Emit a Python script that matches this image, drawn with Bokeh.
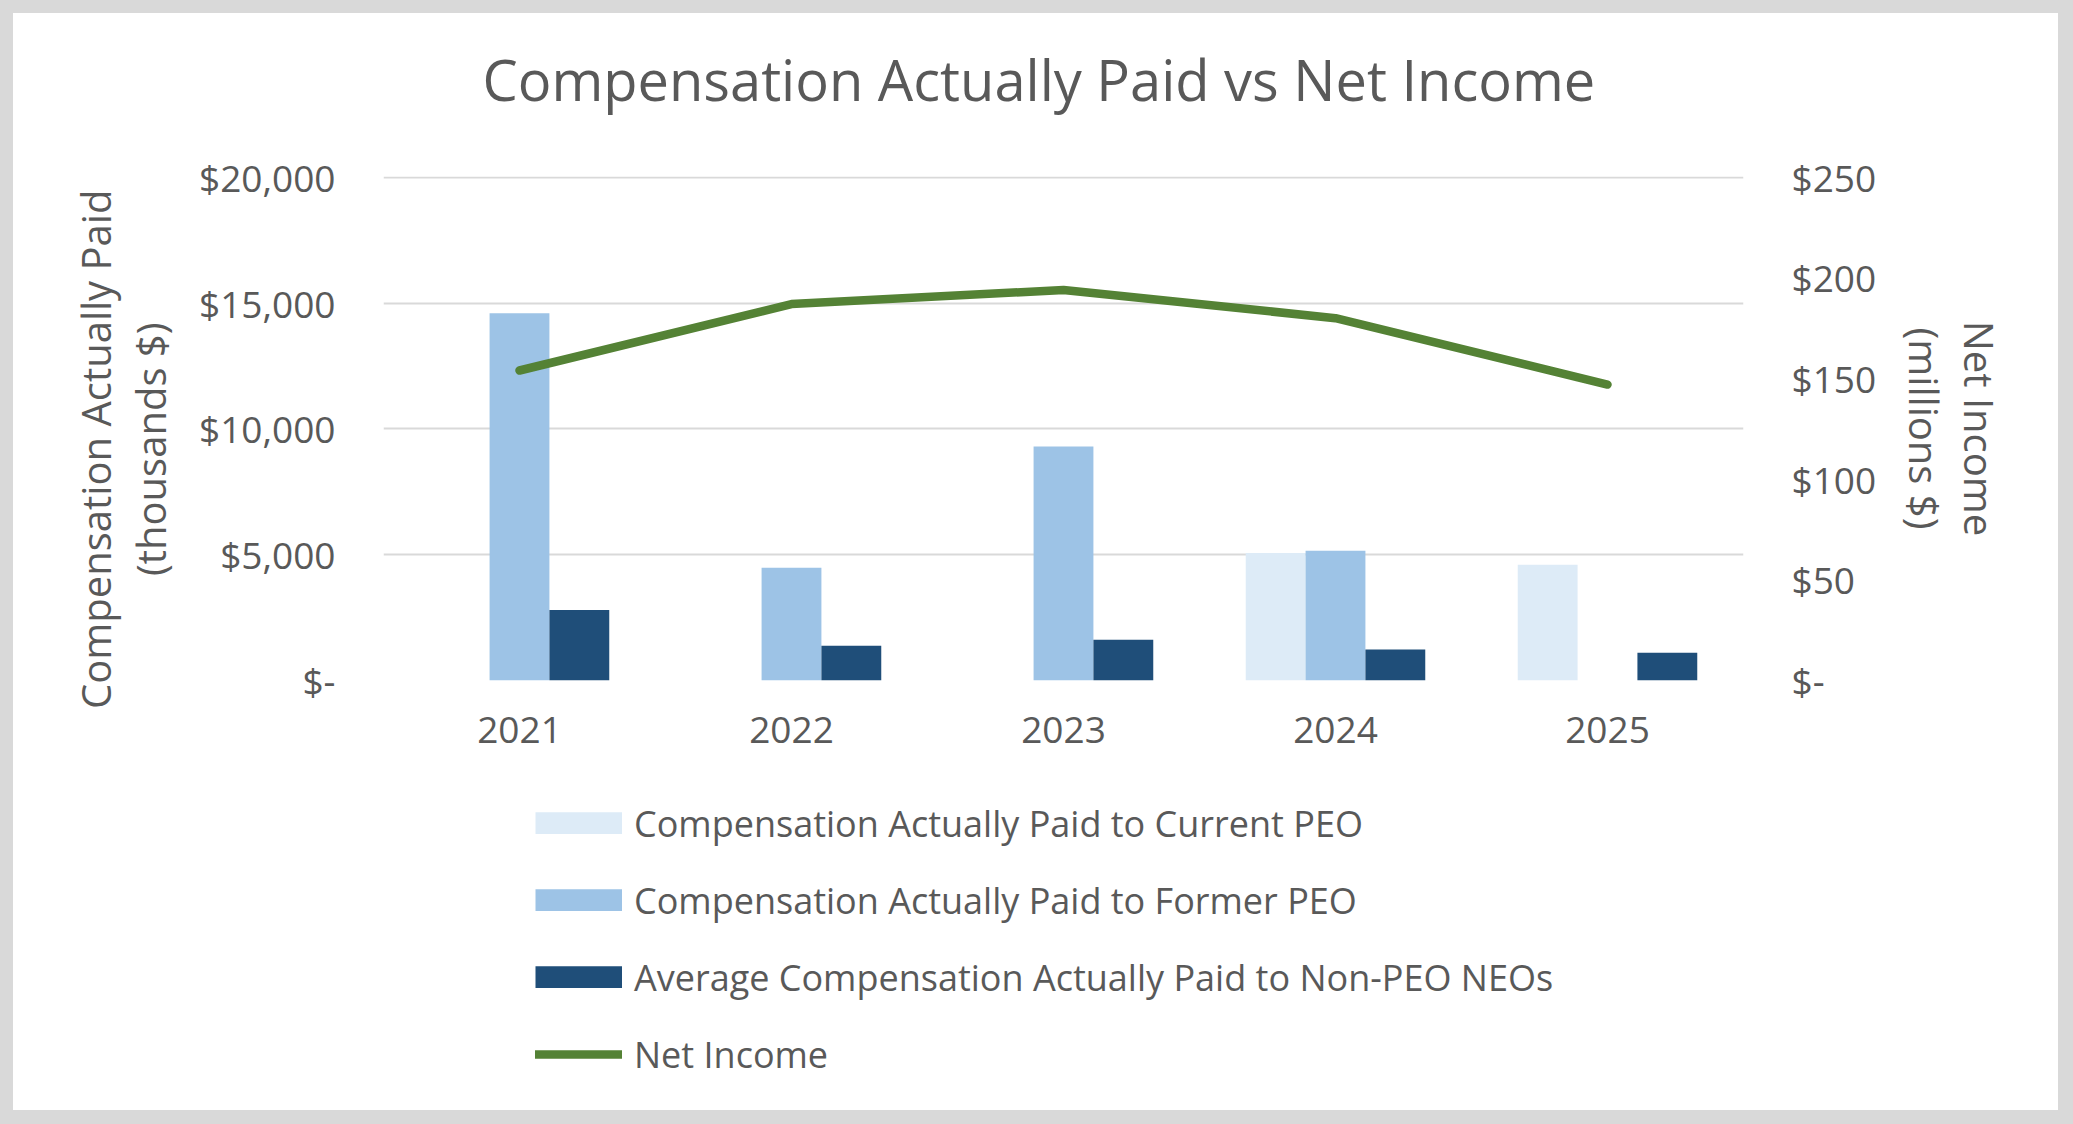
import numpy as np
from bokeh.plotting import figure
from bokeh.layouts import column
from bokeh.models import (FactorRange, Range1d, LinearAxis, FixedTicker, Legend,
                          LegendItem, ColumnDataSource, Title)
from bokeh.transform import dodge
from bokeh.embed import file_html
from bokeh.resources import INLINE

# ---------------- data ----------------
years = ["2021", "2022", "2023", "2024", "2025"]
current_peo = [None, None, None, 5070, 4600]        # thousands $
former_peo = [14600, 4480, 9300, 5160, None]        # thousands $
non_peo_neo = [2800, 1380, 1620, 1230, 1100]        # thousands $
net_income = [154, 187, 194, 180, 147]              # millions $

left_ticks = [0, 5000, 10000, 15000, 20000]
left_tick_labels = ["$-", "$5,000", "$10,000", "$15,000", "$20,000"]
right_ticks = [0, 50, 100, 150, 200, 250]
right_tick_labels = ["$-", "$50", "$100", "$150", "$200", "$250"]

series_names = ["Compensation Actually Paid to Current PEO",
                "Compensation Actually Paid to Former PEO",
                "Average Compensation Actually Paid to Non-PEO NEOs",
                "Net Income"]

# ---------------- style ----------------
FONT = "Open Sans"
TXT = "#595959"
C_CUR = "#DDEBF7"
C_FOR = "#9DC3E6"
C_NEO = "#1F4E79"
C_NI = "#548235"
GRID = "#D9D9D9"
FRAME = "#D9D9D9"

W = 2073
H1 = 790           # chart part
H2 = 1124 - H1     # legend part

def f(vals):
    return np.array([np.nan if v is None else v for v in vals], dtype=float)

src = ColumnDataSource(dict(year=years, cur=f(current_peo), fmr=f(former_peo),
                            neo=f(non_peo_neo), ni=f(net_income)))

p = figure(width=W, height=H1, x_range=FactorRange(factors=years, range_padding=0),
           y_range=Range1d(0, 20030), output_backend="svg", toolbar_location=None,
           min_border_left=370, min_border_right=343, min_border_top=163,
           min_border_bottom=123)
p.extra_y_ranges = {"ni": Range1d(0, 250.375)}
p.styles = {"border-style": "solid", "border-color": FRAME,
            "border-width": "13px 15px 0px 13px"}

p.outline_line_color = None
p.background_fill_color = "white"
p.border_fill_color = "white"

# title (with a spacer between it and the plot area)
p.title.text = "Compensation Actually Paid vs Net Income"
p.title.align = "left"
p.title.offset = 99
p.title.standoff = 0
p.title.vertical_align = "bottom"
p.title.text_font = FONT
p.title.text_font_size = "56px"
p.title.text_font_style = "normal"
p.title.text_color = TXT
p.add_layout(Title(text=" ", text_font_size="1px", standoff=57), "above")

bw = 0.22
p.vbar(x=dodge("year", -bw, range=p.x_range), top="cur", bottom=0, width=bw,
       source=src, fill_color=C_CUR, line_color=None)
p.vbar(x=dodge("year", 0, range=p.x_range), top="fmr", bottom=0, width=bw,
       source=src, fill_color=C_FOR, line_color=None)
p.vbar(x=dodge("year", bw, range=p.x_range), top="neo", bottom=0, width=bw,
       source=src, fill_color=C_NEO, line_color=None)
p.line(x="year", y="ni", source=src, y_range_name="ni", line_color=C_NI,
       line_width=8.5, line_cap="round", line_join="round")

# grid
p.xgrid.grid_line_color = None
p.ygrid.ticker = FixedTicker(ticks=left_ticks)
p.ygrid.grid_line_color = GRID
p.ygrid.grid_line_width = 2

def style_axis(ax):
    ax.axis_line_color = None
    ax.major_tick_line_color = None
    ax.minor_tick_line_color = None
    ax.major_tick_in = 0
    ax.major_tick_out = 0
    ax.major_label_text_font = FONT
    ax.major_label_text_font_size = "37px"
    ax.major_label_text_color = TXT
    ax.axis_label_text_font = FONT
    ax.axis_label_text_font_size = "40px"
    ax.axis_label_text_font_style = "normal"
    ax.axis_label_text_color = TXT
    ax.axis_label_text_line_height = 1.0

NB = "\u00a0" * 4   # nudges the left title toward the bottom, like the reference

# left axis
la = p.left[0]
style_axis(la)
la.ticker = FixedTicker(ticks=left_ticks)
la.major_label_overrides = {t: s for t, s in zip(left_ticks, left_tick_labels)}
la.major_label_standoff = 48
la.axis_label = "Compensation Actually Paid" + NB + "\n(thousands $)" + NB
la.axis_label_standoff = 18

# right axis
ra = LinearAxis(y_range_name="ni", ticker=FixedTicker(ticks=right_ticks))
style_axis(ra)
ra.major_label_overrides = {t: s for t, s in zip(right_ticks, right_tick_labels)}
ra.major_label_standoff = 48
ra.axis_label = "Net Income\n(millions $)"
ra.axis_label_standoff = 18
p.add_layout(ra, "right")

# x axis
xa = p.below[0]
style_axis(xa)
xa.major_label_standoff = 36

# ---------------- legend panel ----------------
q = figure(width=W, height=H2, x_range=Range1d(0, 1), y_range=Range1d(0, 1),
           output_backend="svg", toolbar_location=None,
           x_axis_type=None, y_axis_type=None, min_border=0)
q.styles = {"border-style": "solid", "border-color": FRAME,
            "border-width": "0px 15px 14px 13px"}
q.outline_line_color = None
q.background_fill_color = "white"
q.border_fill_color = "white"
q.grid.visible = False

# proxy renderers (a single point draws nothing) that only carry the legend styles;
# thick butt-capped lines give full-size rectangular swatches
k_cur = q.line(x=[0], y=[0], line_color=C_CUR, line_width=22.5, line_cap="butt")
k_for = q.line(x=[0], y=[0], line_color=C_FOR, line_width=22.5, line_cap="butt")
k_neo = q.line(x=[0], y=[0], line_color=C_NEO, line_width=22.5, line_cap="butt")
k_ni = q.line(x=[0], y=[0], line_color=C_NI, line_width=8.5, line_cap="round")

legend = Legend(items=[LegendItem(label=series_names[0], renderers=[k_cur]),
                       LegendItem(label=series_names[1], renderers=[k_for]),
                       LegendItem(label=series_names[2], renderers=[k_neo]),
                       LegendItem(label=series_names[3], renderers=[k_ni])],
                location=(152, 45), orientation="vertical",
                label_text_font=FONT, label_text_font_size="36px",
                label_text_color=TXT, glyph_width=87, glyph_height=22,
                label_height=50, spacing=27, padding=0, margin=0,
                label_standoff=12, border_line_color=None,
                background_fill_alpha=0)
q.add_layout(legend)

layout = column(p, q, spacing=0)
open("out.html", "w").write(file_html(layout, INLINE))
